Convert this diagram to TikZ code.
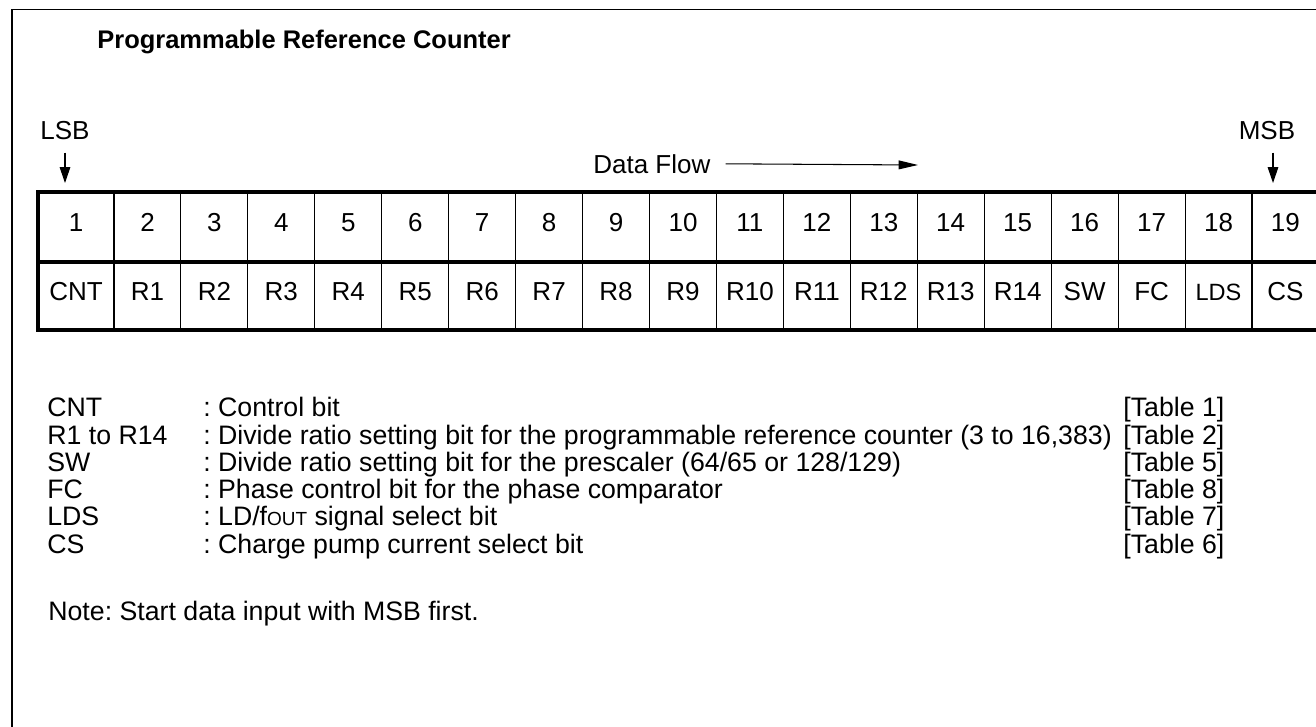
\documentclass[tikz,border=0pt]{standalone}
\usepackage{fontspec}
\setmainfont{Liberation Sans}
\usetikzlibrary{arrows.meta}
\frenchspacing

\tikzset{
	txt/.style={font=\fontsize{14.8}{17}\selectfont, inner sep=0pt},
	cell/.style={txt, draw=black, line width=0.6pt, outer sep=0pt, minimum width=1.3388cm, text height=10.6pt, text depth=5pt},
	numcell/.style={cell, minimum height=1.4cm},
	bitcell/.style={cell, minimum height=1.36cm},
	border/.style={line width=1.9pt},
	bitarrow/.style={line width=0.6pt, -{Triangle[length=9pt,width=6pt]}},
	flowarrow/.style={line width=0.6pt, -{Triangle[length=11pt,width=5pt]}},
	key/.style={txt, font=\fontsize{15.2}{17}\selectfont, anchor=base west},
}

\begin{document}
\begin{tikzpicture}[x=0.02cm, y=-0.02cm]
				\useasboundingbox (0,0) rectangle (1316,727);
				\draw[line width=0.6pt] (12,727) -- (12,9.3) -- (1316,9.3);
				
				\node[txt, anchor=base west, font=\fontsize{14.5}{17}\selectfont\bfseries] (title) at (97,48) {Programmable Reference Counter};
				
				\node[txt, anchor=base] (lsb) at (65,139) {LSB};
				\node[txt, anchor=base] (msb) at (1267,139) {MSB};
				\node[txt, anchor=base west] (flow) at (593,173) {Data Flow};
				\coordinate (lsbtip) at (65,183);
				\coordinate (msbtip) at (1273,183);
				\coordinate (flowtip) at (918,165);
				
				% bit numbers
				\node[numcell, minimum width=1.52cm] (n1) at (76,227) {1};
				\node[numcell] (n2) at (147.5,227) {2};
				\node[numcell] (n3) at (214.4,227) {3};
				\node[numcell] (n4) at (281.3,227) {4};
				\node[numcell] (n5) at (348.3,227) {5};
				\node[numcell] (n6) at (415.3,227) {6};
				\node[numcell] (n7) at (482.2,227) {7};
				\node[numcell] (n8) at (549.1,227) {8};
				\node[numcell] (n9) at (616.0,227) {9};
				\node[numcell] (n10) at (683.0,227) {10};
				\node[numcell] (n11) at (749.9,227) {11};
				\node[numcell] (n12) at (816.9,227) {12};
				\node[numcell] (n13) at (883.8,227) {13};
				\node[numcell] (n14) at (950.7,227) {14};
				\node[numcell] (n15) at (1017.7,227) {15};
				\node[numcell] (n16) at (1084.6,227) {16};
				\node[numcell] (n17) at (1151.6,227) {17};
				\node[numcell] (n18) at (1218.5,227) {18};
				\node[numcell] (n19) at (1285.4,227) {19};
				
				% bit names
				\node[bitcell, minimum width=1.52cm] (b1) at (76,296) {CNT};
				\node[bitcell] (b2) at (147.5,296) {R1};
				\node[bitcell] (b3) at (214.4,296) {R2};
				\node[bitcell] (b4) at (281.3,296) {R3};
				\node[bitcell] (b5) at (348.3,296) {R4};
				\node[bitcell] (b6) at (415.3,296) {R5};
				\node[bitcell] (b7) at (482.2,296) {R6};
				\node[bitcell] (b8) at (549.1,296) {R7};
				\node[bitcell] (b9) at (616.0,296) {R8};
				\node[bitcell] (b10) at (683.0,296) {R9};
				\node[bitcell] (b11) at (749.9,296) {R10};
				\node[bitcell] (b12) at (816.9,296) {R11};
				\node[bitcell] (b13) at (883.8,296) {R12};
				\node[bitcell] (b14) at (950.7,296) {R13};
				\node[bitcell] (b15) at (1017.7,296) {R14};
				\node[bitcell] (b16) at (1084.6,296) {SW};
				\node[bitcell] (b17) at (1151.6,296) {FC};
				\node[bitcell, font=\fontsize{13.4}{15}\selectfont] (b18) at (1218.5,296) {LDS};
				\node[bitcell] (b19) at (1285.4,296) {CS};
				
				\draw[border] (n19.north east) -- (n1.north west) -- (b1.south west) -- (b19.south east);
				\draw[border] (n1.south west) -- (n19.south east);
				
				\path [bitarrow] (lsb.south) edge[shorten <=7.4pt] (lsbtip);
				\path [bitarrow] (msb.south -| msbtip) edge[shorten <=7.4pt] (msbtip);
				\path [flowarrow] (flow.east) edge[shorten <=8.5pt] (flowtip);
				
				% legend
				\node[key] (kcnt) at (47,416.7) {CNT};
				\node[key] (kr) at (47,444) {R1 to R14};
				\node[key] (ksw) at (47,471.3) {SW};
				\node[key] (kfc) at (47,498.6) {FC};
				\node[key] (klds) at (47,525.9) {LDS};
				\node[key] (kcs) at (47,553.2) {CS};
				
				\node[key] (dcnt) at (203,416.7) {: Control bit};
				\node[key] (dr) at (203,444) {: Divide ratio setting bit for the programmable reference counter (3 to 16,383)};
				\node[key] (dsw) at (203,471.3) {: Divide ratio setting bit for the prescaler (64/65 or 128/129)};
				\node[key] (dfc) at (203,498.6) {: Phase control bit for the phase comparator};
				\node[key] (dlds) at (203,525.9) {: LD/f{\fontsize{10.8}{12}\selectfont OUT} signal select bit};
				\node[key] (dcs) at (203,553.2) {: Charge pump current select bit};
				
				\node[key] (tcnt) at (1123,416.7) {[Table 1]};
				\node[key] (tr) at (1123,444) {[Table 2]};
				\node[key] (tsw) at (1123,471.3) {[Table 5]};
				\node[key] (tfc) at (1123,498.6) {[Table 8]};
				\node[key] (tlds) at (1123,525.9) {[Table 7]};
				\node[key] (tcs) at (1123,553.2) {[Table 6]};
				
				\node[key] (note) at (48,620) {Note: Start data input with MSB first.};
			\end{tikzpicture}
\end{document}
